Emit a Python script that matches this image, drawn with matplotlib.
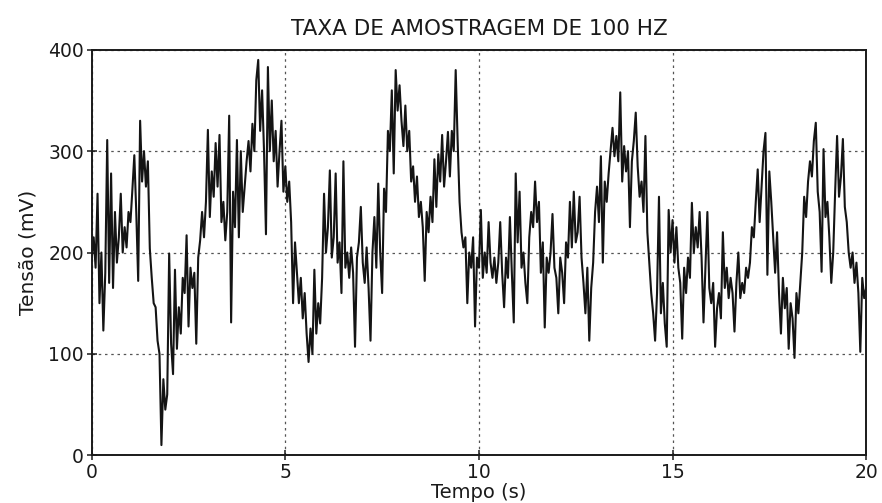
import numpy as np
import matplotlib
matplotlib.use("Agg")
import matplotlib.pyplot as plt

# leitura aproximada do sinal, um valor a cada 0.05 s (mV)
tensao_mv = [
    # 0 - 1 s
    195, 215, 185, 258, 150, 200, 123, 180, 311, 170,
    278, 165, 240, 190, 215, 258, 200, 225, 205, 240,
    # 1 - 2 s
    230, 262, 296, 240, 172, 330, 270, 300, 265, 290,
    204, 175, 150, 146, 113, 100, 10, 75, 45, 60,
    # 2 - 3 s
    199, 110, 80, 183, 105, 146, 120, 175, 160, 217,
    127, 185, 165, 180, 110, 195, 212, 240, 215, 250,
    # 3 - 4 s
    321, 235, 280, 255, 308, 265, 316, 230, 250, 212,
    240, 335, 131, 260, 225, 311, 215, 300, 240, 265,
    # 4 - 5 s
    290, 310, 280, 327, 300, 370, 390, 320, 360, 300,
    218, 383, 300, 350, 290, 320, 265, 300, 330, 260,
    # 5 - 6 s
    285, 250, 270, 230, 150, 210, 180, 150, 175, 135,
    160, 120, 92, 125, 100, 183, 120, 150, 130, 175,
    # 6 - 7 s
    258, 200, 225, 281, 195, 215, 278, 190, 210, 160,
    290, 185, 200, 175, 205, 180, 107, 195, 210, 245,
    # 7 - 8 s
    190, 170, 205, 165, 113, 200, 235, 185, 268, 200,
    160, 263, 240, 320, 300, 360, 278, 380, 340, 365,
    # 8 - 9 s
    330, 305, 345, 300, 320, 270, 285, 250, 275, 235,
    250, 225, 172, 240, 220, 255, 230, 292, 245, 297,
    # 9 - 10 s
    270, 316, 265, 290, 319, 275, 320, 300, 380, 310,
    250, 220, 205, 215, 150, 200, 185, 215, 127, 195,
    # 10 - 11 s
    185, 242, 175, 200, 180, 230, 190, 175, 195, 170,
    190, 230, 180, 146, 195, 175, 235, 180, 131, 278,
    # 11 - 12 s
    210, 260, 185, 200, 170, 150, 215, 240, 225, 270,
    230, 250, 180, 210, 126, 195, 180, 200, 238, 185,
    # 12 - 13 s
    175, 140, 195, 180, 150, 210, 195, 250, 205, 260,
    210, 220, 255, 195, 170, 140, 185, 113, 165, 190,
    # 13 - 14 s
    240, 265, 230, 295, 190, 270, 250, 278, 300, 323,
    295, 315, 290, 358, 270, 305, 280, 300, 225, 290,
    # 14 - 15 s
    310, 338, 285, 255, 270, 240, 315, 220, 190, 160,
    140, 113, 160, 255, 140, 170, 130, 107, 242, 200,
    # 15 - 16 s
    232, 190, 225, 185, 170, 115, 185, 160, 195, 175,
    249, 200, 225, 205, 240, 195, 131, 185, 240, 165,
    # 16 - 17 s
    150, 170, 107, 145, 160, 135, 220, 165, 185, 155,
    175, 160, 122, 170, 200, 155, 170, 160, 185, 175,
    # 17 - 18 s
    190, 225, 215, 250, 282, 230, 265, 300, 318, 178,
    280, 250, 215, 180, 220, 160, 120, 175, 145, 165,
    # 18 - 19 s
    105, 150, 135, 96, 160, 140, 170, 200, 255, 235,
    270, 290, 275, 310, 328, 260, 240, 181, 302, 235,
    # 19 - 20 s
    250, 215, 170, 200, 260, 315, 255, 275, 312, 245,
    230, 200, 185, 200, 170, 190, 160, 102, 175, 155,
    165,
]

dt = 0.05
tempo_s = np.arange(len(tensao_mv)) * dt

x_ticks = [0, 5, 10, 15, 20]
y_ticks = [0, 100, 200, 300, 400]

fig = plt.figure(figsize=(8.82, 5.03), dpi=100)
ax = fig.add_axes([0.104, 0.095, 0.878, 0.806])

ax.plot(tempo_s, tensao_mv, color="#141414", linewidth=1.5)

ax.set_xlim(0, 20)
ax.set_ylim(0, 400)
ax.set_xticks(x_ticks)
ax.set_yticks(y_ticks)
ax.tick_params(direction="inout", length=7, width=1.1, labelsize=13.5,
               colors="#1a1a1a", pad=2)
ax.grid(True, linestyle=(0, (2, 3)), color="#555555", linewidth=0.9)

for s in ax.spines.values():
    s.set_linewidth(1.4)
    s.set_color("#1a1a1a")

ax.set_title("TAXA DE AMOSTRAGEM DE 100 HZ", fontsize=15.5, color="#1a1a1a",
             pad=11)
ax.set_xlabel("Tempo (s)", fontsize=14, color="#1a1a1a", labelpad=1)
ax.set_ylabel("Tensão (mV)", fontsize=14.5, color="#1a1a1a", labelpad=8)

fig.savefig("out.png", dpi=100, facecolor="white")
